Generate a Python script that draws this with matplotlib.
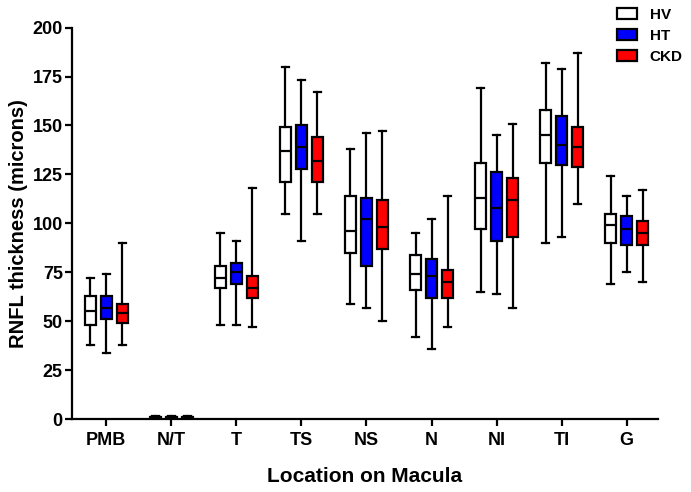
import numpy as np
import matplotlib
matplotlib.use('Agg')
import matplotlib.pyplot as plt
from matplotlib.patches import Patch

plt.rcParams['font.family'] = ['Liberation Sans', 'DejaVu Sans']
plt.rcParams['font.weight'] = 'bold'

categories = ['PMB', 'N/T', 'T', 'TS', 'NS', 'N', 'NI', 'TI', 'G']
series_names = ['HV', 'HT', 'CKD']
series_colors = ['white', '#0000ff', '#ff0000']

# whisker low, Q1, median, Q3, whisker high for each location
hv = [
    [38, 48, 55, 63, 72],
    [0.5, 0.8, 1.0, 1.2, 1.5],
    [48, 67, 72, 78, 95],
    [105, 121, 137, 149, 180],
    [59, 85, 96, 114, 138],
    [42, 66, 74, 84, 95],
    [65, 97, 113, 131, 169],
    [90, 131, 145, 158, 182],
    [69, 90, 99, 105, 124],
]
ht = [
    [34, 51, 57, 63, 74],
    [0.5, 0.8, 1.0, 1.2, 1.5],
    [48, 69, 75, 80, 91],
    [91, 128, 139, 150, 173],
    [57, 78, 102, 113, 146],
    [36, 62, 73, 82, 102],
    [64, 91, 108, 126, 145],
    [93, 130, 140, 155, 179],
    [75, 89, 97, 104, 114],
]
ckd = [
    [38, 49, 54, 59, 90],
    [0.5, 0.8, 1.0, 1.2, 1.5],
    [47, 62, 67, 73, 118],
    [105, 121, 132, 144, 167],
    [50, 87, 98, 112, 147],
    [47, 62, 70, 76, 114],
    [57, 93, 112, 123, 151],
    [110, 129, 139, 149, 187],
    [70, 89, 95, 101, 117],
]

fig = plt.figure(figsize=(6.91, 4.92), dpi=100)
ax = fig.add_axes([0.104, 0.148, 0.848, 0.796])

lw = 1.6
x = np.arange(len(categories))
offset = 0.246
for j, data in enumerate([hv, ht, ckd]):
    stats = []
    for lo, q1, med, q3, hi in data:
        stats.append({'whislo': lo, 'q1': q1, 'med': med, 'q3': q3, 'whishi': hi})
    ax.bxp(stats, positions=x + (j - 1) * offset, widths=0.17, capwidths=0.1,
           showfliers=False, patch_artist=True, manage_ticks=False,
           boxprops=dict(facecolor=series_colors[j], edgecolor='black', linewidth=lw),
           medianprops=dict(color='black', linewidth=lw),
           whiskerprops=dict(color='black', linewidth=lw),
           capprops=dict(color='black', linewidth=lw))

ax.set_xlim(-0.53, 8.48)
ax.set_ylim(0, 200)
ax.set_xticks(x)
ax.set_xticklabels(categories)
ax.set_yticks(np.arange(0, 201, 25))
ax.tick_params(direction='out', length=5, width=lw, labelsize=13)
ax.tick_params(axis='y', pad=1.5)
ax.tick_params(axis='x', pad=4)
for s in ['top', 'right']:
    ax.spines[s].set_visible(False)
for s in ['left', 'bottom']:
    ax.spines[s].set_linewidth(lw)

ax.set_ylabel('RNFL thickness (microns)', fontsize=14.5, fontweight='bold', labelpad=3)
ax.set_xlabel('Location on Macula', fontsize=15, fontweight='bold', labelpad=13)

handles = [Patch(facecolor=c, edgecolor='black', linewidth=lw) for c in series_colors]
fig.legend(handles, series_names, loc='upper left', bbox_to_anchor=(617 / 691, 1 - 8 / 492),
           frameon=False, fontsize=11, handlelength=1.3, handleheight=0.75,
           labelspacing=0.45, handletextpad=0.85, borderpad=0, borderaxespad=0)

fig.savefig('out.png', dpi=100)
